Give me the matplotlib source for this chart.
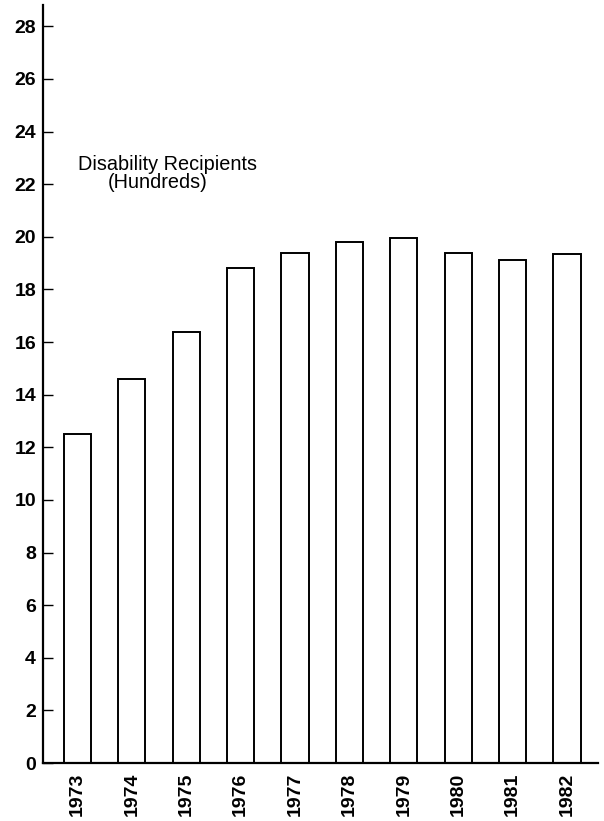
import numpy as np
import matplotlib
matplotlib.use("Agg")
import matplotlib.pyplot as plt

plt.rcParams['font.family'] = ['Liberation Sans', 'DejaVu Sans']

# disability recipients, hundreds
years = ['1973', '1974', '1975', '1976', '1977', '1978', '1979', '1980', '1981', '1982']
recipients = [12.5, 14.6, 16.4, 18.8, 19.4, 19.8, 19.95, 19.4, 19.1, 19.35]
yticks = list(range(0, 29, 2))

fig = plt.figure(figsize=(6.04, 8.21), dpi=100)
ax = fig.add_axes([0.0712, 0.0706, 0.919, 0.923])

x = np.arange(len(years))
ax.bar(x, recipients, width=0.5, facecolor='white', edgecolor='black', linewidth=1.4)

ax.set_xlim(-0.634, 9.57)
ax.set_ylim(0, 28.8)

ax.set_yticks(yticks)
ax.set_yticklabels([str(t) for t in yticks], fontsize=14, fontweight='bold')
ax.tick_params(axis='y', direction='in', length=7, width=1, pad=5)

ax.set_xticks(x)
ax.set_xticklabels(years, rotation=90, fontsize=14, fontweight='bold')
ax.tick_params(axis='x', length=0, pad=7)

for side in ['top', 'right']:
    ax.spines[side].set_visible(False)
ax.spines['left'].set_linewidth(1.6)
ax.spines['bottom'].set_linewidth(1.6)

# label sits inside the plot, second line a bit to the left like the scan
ax.text(1.66, 22.74, 'Disability Recipients', ha='center', va='center', fontsize=14.3)
ax.text(1.48, 22.05, '(Hundreds)', ha='center', va='center', fontsize=14.3)

fig.savefig('out.png', dpi=100)
